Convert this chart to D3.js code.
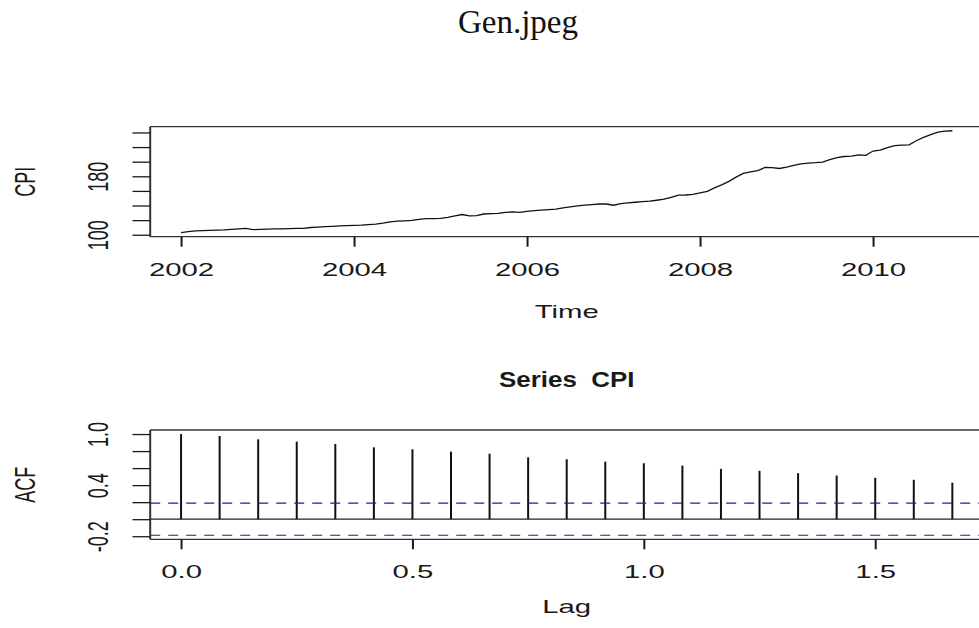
<!DOCTYPE html>
<html>
<head>
<meta charset="utf-8">
<script src="https://cdn.jsdelivr.net/npm/d3@7"></script>
<style>
  html, body { margin: 0; padding: 0; background: #fff; }
  svg { display: block; }
</style>
</head>
<body>
<div id="graph"></div>
<script>
// monthly CPI, Jan 2002 .. Dec 2010
const cpiStart = 2002;
const cpiValues = [
  102.9, 104.4, 105.2, 105.6, 106.0, 106.3, 106.7, 107.4, 108.0, 108.8, 107.0, 107.3,
  107.7, 108.0, 108.1, 108.4, 108.6, 108.8, 109.9, 110.4, 111.0, 111.5, 112.1, 112.5,
  112.8, 113.2, 113.9, 114.6, 115.8, 117.6, 118.7, 119.1, 119.7, 121.0, 122.0, 122.1,
  122.4, 123.7, 125.7, 127.7, 125.9, 126.2, 128.4, 128.8, 129.2, 130.6, 131.2, 130.5,
  132.0, 132.9, 133.7, 134.4, 135.1, 136.8, 138.2, 139.4, 140.5, 141.3, 142.1, 142.1,
  140.4, 142.7, 143.5, 144.5, 145.2, 146.0, 147.2, 148.6, 151.3, 154.1, 154.4, 155.2,
  157.2, 159.3, 164.1, 168.2, 173.0, 178.8, 184.0, 186.1, 187.7, 192.0, 191.8, 190.7,
  192.5, 195.0, 196.9, 198.0, 198.6, 199.5, 202.8, 205.6, 207.1, 207.6, 209.4, 208.6,
  214.6, 215.7, 219.3, 222.0, 222.6, 223.1, 228.6, 233.2, 236.9, 240.4, 241.8, 242.3
];
// autocorrelations, lags 0..20 months
const acfValues = [
  1.000, 0.977, 0.938, 0.911, 0.883, 0.844, 0.821, 0.793, 0.769, 0.727, 0.704,
  0.676, 0.657, 0.629, 0.591, 0.568, 0.541, 0.513, 0.486, 0.463, 0.428
];
const timeTicks = [2002, 2004, 2006, 2008, 2010];
const cpiTicks = [100, 120, 140, 160, 180, 200, 220, 240];
const cpiLabels = [100, 180];
const lagTicks = [0, 0.5, 1.0, 1.5];
const acfTicks = [-0.2, 0, 0.2, 0.4, 0.6, 0.8, 1.0];
const acfLabels = [-0.2, 0.4, 1.0];

const W = 979, H = 628;
const stretch = 1.63;   // the picture is squeezed wide
const ink = "#1a1a1a";
const sans = "'Liberation Sans', Arial, sans-serif";

let svg = d3.select("#graph").append("svg")
    .attr("width", W)
    .attr("height", H);

// title above both panels
svg.append("text")
    .attr("x", 518).attr("y", 33)
    .attr("text-anchor", "middle")
    .style("font-family", "'Liberation Serif', 'DejaVu Serif', serif")
    .style("font-size", "33px")
    .attr("fill", "#111")
    .text("Gen.jpeg");

// R-like padded range
function rpad(ext) {
  let d = (ext[1] - ext[0]) * 0.04;
  return [ext[0] - d, ext[1] + d];
}

function stretchedText(g, x, y, str, rot) {
  return g.append("text")
      .attr("transform", "translate(" + x + "," + y + ") scale(" + stretch + ",1)" + (rot ? " rotate(-90)" : ""))
      .attr("text-anchor", "middle")
      .style("font-family", sans)
      .style("font-size", "18px")
      .style("white-space", "pre")
      .attr("fill", ink)
      .text(str);
}

function frame(g, w, h) {
  g.append("line").attr("x1", 0).attr("x2", w).attr("y1", 0).attr("y2", 0)
      .attr("stroke", "#333").attr("stroke-width", 1.3);
  g.append("line").attr("x1", 0).attr("x2", w).attr("y1", h).attr("y2", h)
      .attr("stroke", "#333").attr("stroke-width", 1.3);
  g.append("line").attr("x1", 0).attr("x2", 0).attr("y1", 0).attr("y2", h)
      .attr("stroke", "#333").attr("stroke-width", 2);
}

function bottomAxis(g, scale, ticks, fmt, h) {
  let ax = g.append("g")
      .attr("transform", "translate(0," + h + ")")
      .call(d3.axisBottom(scale).tickValues(ticks).tickSize(10).tickFormat(fmt));
  ax.select(".domain").remove();
  ax.selectAll("line").attr("stroke", ink).attr("stroke-width", 2);
  ax.selectAll("text")
      .attr("y", null).attr("dy", null)
      .attr("transform", "translate(0,39) scale(" + stretch + ",1)")
      .style("font-family", sans).style("font-size", "18px")
      .attr("fill", ink);
}

function leftAxis(g, scale, ticks, labels, fmt) {
  let ax = g.append("g")
      .call(d3.axisLeft(scale).tickValues(ticks).tickSize(17.7)
        .tickFormat(d => labels.some(l => Math.abs(l - d) < 1e-9) ? fmt(d) : ""));
  ax.select(".domain").remove();
  ax.selectAll("line").attr("stroke", ink).attr("stroke-width", 1.3);
  ax.selectAll("text")
      .attr("x", null).attr("dy", null)
      .attr("text-anchor", "middle")
      .attr("transform", "translate(-42,0) scale(" + stretch + ",1) rotate(-90)")
      .style("font-family", sans).style("font-size", "18px")
      .attr("fill", ink);
}

// ---------- panel 1: the CPI series ----------
let p1 = {left: 150.2, top: 126.7, width: 833, height: 110};
let data = cpiValues.map((v, i) => ({t: cpiStart + i / 12, v: v}));

let x1 = d3.scaleLinear()
    .domain(rpad(d3.extent(data, d => d.t)))
    .range([0, p1.width]);
let y1 = d3.scaleLinear()
    .domain(rpad(d3.extent(data, d => d.v)))
    .range([p1.height, 0]);

let g1 = svg.append("g")
    .attr("transform", "translate(" + p1.left + "," + p1.top + ")");

let valueline = d3.line()
    .x(d => x1(d.t))
    .y(d => y1(d.v));

g1.append("path")
    .datum(data)
    .attr("fill", "none")
    .attr("stroke", "#111")
    .attr("stroke-width", 1.3)
    .attr("d", valueline);

frame(g1, p1.width, p1.height);
bottomAxis(g1, x1, timeTicks, d3.format("d"), p1.height);
leftAxis(g1, y1, cpiTicks, cpiLabels, d3.format("d"));

stretchedText(svg, p1.left + p1.width / 2, 317.7, "Time");
stretchedText(svg, 35, p1.top + p1.height / 2, "CPI", true);

// ---------- panel 2: ACF ----------
let p2 = {left: 150.2, top: 430, width: 833, height: 109.3};
let ci = 1.96 / Math.sqrt(cpiValues.length);
let acf = acfValues.map((v, k) => ({lag: k / 12, v: v}));

let x2 = d3.scaleLinear()
    .domain(rpad(d3.extent(acf, d => d.lag)))
    .range([0, p2.width]);
let y2 = d3.scaleLinear()
    .domain(rpad([Math.min(-ci, d3.min(acf, d => d.v)), d3.max(acf, d => d.v)]))
    .range([p2.height, 0]);

let g2 = svg.append("g")
    .attr("transform", "translate(" + p2.left + "," + p2.top + ")");

g2.selectAll(".bar")
    .data(acf)
  .enter().append("line")
    .attr("class", "bar")
    .attr("x1", d => x2(d.lag)).attr("x2", d => x2(d.lag))
    .attr("y1", y2(0)).attr("y2", d => y2(d.v))
    .attr("stroke", "#111")
    .attr("stroke-width", 2);

g2.append("line")
    .attr("x1", 0).attr("x2", p2.width)
    .attr("y1", y2(0)).attr("y2", y2(0))
    .attr("stroke", "#222").attr("stroke-width", 1.3);

g2.selectAll(".ci")
    .data([ci, -ci])
  .enter().append("line")
    .attr("class", "ci")
    .attr("x1", 0).attr("x2", p2.width)
    .attr("y1", d => y2(d)).attr("y2", d => y2(d))
    .attr("stroke", "#1f1f9e")
    .attr("stroke-width", 1.2)
    .attr("stroke-dasharray", "10,8");

frame(g2, p2.width, p2.height);
bottomAxis(g2, x2, lagTicks, d3.format(".1f"), p2.height);
leftAxis(g2, y2, acfTicks, acfLabels, d => d3.format(".1f")(d).replace("−", "-"));

svg.append("text")
    .attr("transform", "translate(" + (p2.left + p2.width / 2) + ",387) scale(1.2,1)")
    .attr("text-anchor", "middle")
    .style("font-family", sans)
    .style("font-size", "21.6px")
    .style("font-weight", "bold")
    .style("white-space", "pre")
    .attr("fill", ink)
    .text("Series  CPI");

stretchedText(svg, p2.left + p2.width / 2, 613, "Lag");
stretchedText(svg, 35, p2.top + p2.height / 2, "ACF", true);
</script>
</body>
</html>
